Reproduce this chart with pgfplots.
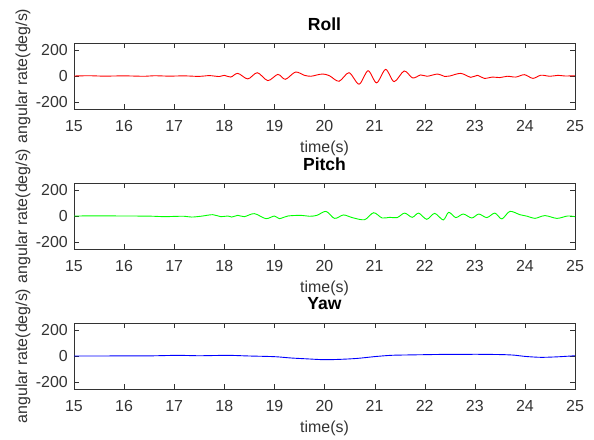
\documentclass[border=0pt]{standalone}
\usepackage{fontspec}
\setmainfont{Liberation Sans}
\usepackage{pgfplots}
\pgfplotsset{compat=1.18}
\pgfplotsset{
 myax/.style={
  scale only axis, width=501bp, height=66bp,
  xmin=15, xmax=25, ymin=-250, ymax=250,
  xtick={15,16,...,25}, ytick={-200,0,200},
  /pgf/number format/assume math mode=true,
  tick label style={font=\fontsize{16}{19}\selectfont, text=black!80},
  xticklabel style={anchor=base, yshift=-22bp},
  yticklabel style={anchor=east, inner sep=0pt, xshift=-6bp},
  title style={font=\bfseries\fontsize{17.6}{20}\selectfont, at={(axis description cs:0.5,1)}, anchor=center, yshift=13bp},
  every axis x label/.style={at={(axis description cs:0.5,0)}, anchor=center, yshift=-39bp, font=\fontsize{16}{19}\selectfont, text=black!80},
  every axis y label/.style={at={(axis description cs:0,0.5)}, anchor=center, xshift=-51bp, rotate=90, font=\fontsize{16}{19}\selectfont, text=black!80},
  axis line style={black!80},
  major tick style={black!80},
  major tick length=5bp,
  xlabel={time(s)}, ylabel={angular rate(deg/s)},
 }
}
\begin{document}
\begin{tikzpicture}
\path[use as bounding box] (-74bp,-331bp) rectangle (520bp,109bp);
\begin{axis}[myax, at={(0bp,0bp)}, title={Roll}]
\addplot[red, line width=0.9bp, smooth] coordinates {
(15.0,0) (15.3,2) (15.6,-1) (16.0,1) (16.4,-2) (16.6,2) (16.9,-1) (17.2,1) (17.5,-3) (17.7,3) (17.9,-4) (18.0,5) (18.13,-8) (18.27,20) (18.47,-22) (18.66,25) (18.87,-35) (19.07,12) (19.22,-25) (19.42,30) (19.6,5) (19.73,-2) (19.85,8) (19.97,15) (20.1,2) (20.29,-40) (20.49,25) (20.69,-62) (20.87,40) (21.04,-52) (21.22,50) (21.39,-43) (21.59,38) (21.76,-15) (21.92,8) (22.05,-2) (22.26,15) (22.4,-4) (22.5,0) (22.72,20) (22.92,-10) (23.05,5) (23.19,-18) (23.35,-8) (23.5,-12) (23.65,-2) (23.82,-8) (23.99,10) (24.16,-18) (24.32,6) (24.5,-2) (24.66,5) (24.8,0) (25.0,2)
};
\end{axis}
\begin{axis}[myax, at={(0bp,-140bp)}, title={Pitch}]
\addplot[green, line width=0.9bp, smooth] coordinates {
(15.0,0) (15.5,1) (16.0,0) (16.5,-1) (16.8,-5) (17.0,-3) (17.2,-2) (17.35,-8) (17.55,-1) (17.77,10) (17.93,-5) (18.07,0) (18.15,-8) (18.27,5) (18.4,-5) (18.6,18) (18.83,-20) (19.0,0) (19.1,-20) (19.27,0) (19.53,5) (19.7,-2) (19.85,5) (20.03,35) (20.2,-18) (20.38,8) (20.55,-12) (20.8,-28) (20.98,25) (21.15,-15) (21.3,-10) (21.45,-12) (21.6,22) (21.75,-10) (21.88,22) (22.04,-25) (22.2,20) (22.37,-30) (22.48,28) (22.62,-12) (22.77,15) (22.94,-15) (23.08,15) (23.24,-12) (23.4,22) (23.54,-22) (23.7,35) (23.9,10) (24.05,-2) (24.2,-18) (24.4,3) (24.64,-18) (24.85,0) (25.0,-5)
};
\end{axis}
\begin{axis}[myax, at={(0bp,-280bp)}, title={Yaw}]
\addplot[blue, line width=0.9bp, smooth] coordinates {
(15,0) (15.5,0) (16,1) (16.5,1) (17.07,5) (17.5,2) (18.07,5) (18.5,0) (19.0,-5) (19.33,-15) (19.67,-22) (20.0,-28) (20.33,-25) (20.66,-18) (20.99,-5) (21.32,5) (21.66,8) (21.99,10) (22.33,12) (22.66,12) (23.0,13) (23.32,12) (23.6,10) (23.8,6) (24.0,-3) (24.32,-10) (24.66,-6) (25,2)
};
\end{axis}
\end{tikzpicture}
\end{document}
